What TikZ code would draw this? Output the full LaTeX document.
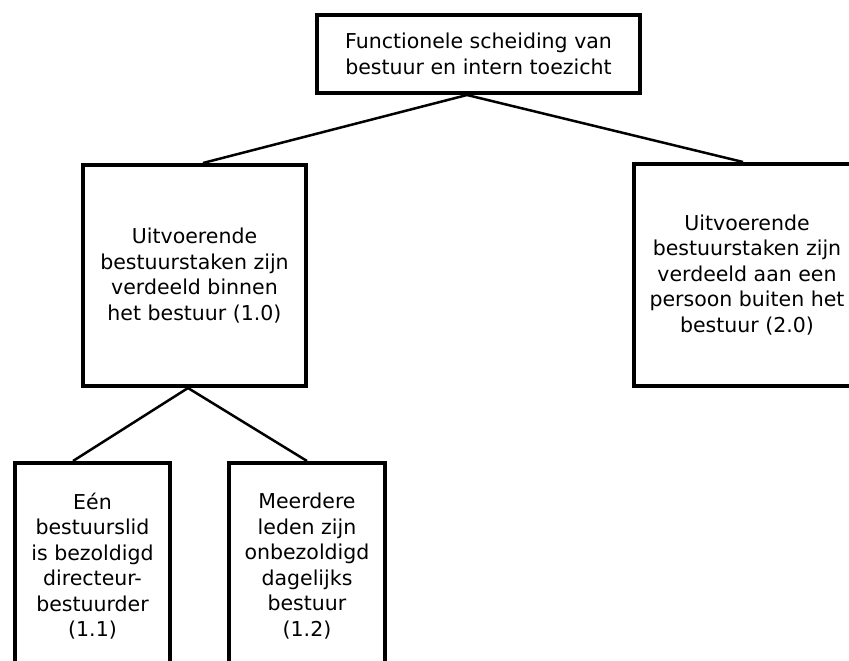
\documentclass[tikz,border=0pt]{standalone}
\usepackage{fontspec}
\setmainfont{DejaVu Sans}
\usepackage{tikz}
\tikzset{box/.style = {draw, line width = 4pt, inner sep = 0pt, align = center,
                       font = \fontsize{20.5}{25.5}\selectfont}}
\tikzset{link/.style = {line width = 2.5pt}}
\begin{document}
\begin{tikzpicture}[x=1pt, y=-1pt]
      \clip (0, 0) rectangle (849, 661);
      \node [box, minimum width = 323pt, minimum height = 78pt] (root) at (478.5, 54)
            {Functionele scheiding van\\bestuur en intern toezicht};
      \node [box, minimum width = 223pt, minimum height = 221pt] (within) at (194.5, 275.5)
            {Uitvoerende\\bestuurstaken zijn\\verdeeld binnen\\het bestuur (1.0)};
      \node [box, minimum width = 226pt, minimum height = 222pt] (outside) at (747, 275)
            {Uitvoerende\\bestuurstaken zijn\\verdeeld aan een\\persoon buiten het\\bestuur (2.0)};
      \node [box, minimum width = 155pt, minimum height = 206pt] (director) at (92.5, 566)
            {Eén\\bestuurslid\\is bezoldigd\\directeur-\\bestuurder\\(1.1)};
      \node [box, minimum width = 156pt, minimum height = 206pt] (board) at (307, 566)
            {Meerdere\\leden zijn\\onbezoldigd\\dagelijks\\bestuur\\(1.2)};
      \draw [link] ([xshift=-11.5pt]root.south) -- ([xshift=8.5pt]within.north);
      \draw [link] ([xshift=-11.5pt]root.south) -- ([xshift=-4pt]outside.north);
      \draw [link] ([xshift=-6.5pt]within.south) -- ([xshift=-19.5pt]director.north);
      \draw [link] ([xshift=-6.5pt]within.south) -- (board.north);
    \end{tikzpicture}
\end{document}
